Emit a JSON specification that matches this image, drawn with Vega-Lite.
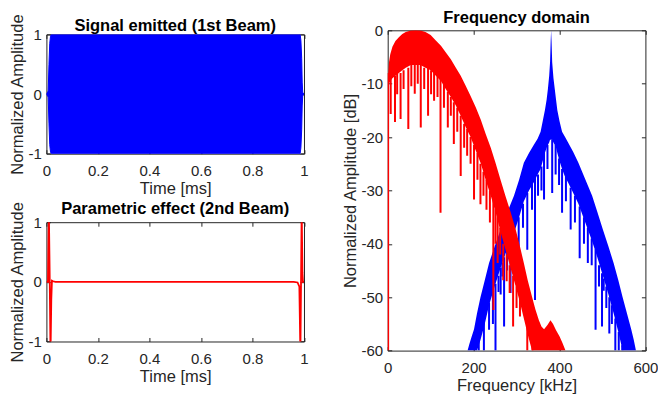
{
  "$schema": "https://vega.github.io/schema/vega-lite/v6.json",
  "background": "white",
  "padding": {"left": 8.4, "top": 10.3, "right": 5, "bottom": 5},
  "config": {
    "font": "Liberation Sans",
    "view": {"stroke": null},
    "title": {"font": "Liberation Sans", "fontSize": 16.5, "fontWeight": "bold", "color": "#000000", "offset": -3.6},
    "axis": {
      "labelFont": "Liberation Sans", "labelFontSize": 15, "labelColor": "#262626",
      "titleFont": "Liberation Sans", "titleFontSize": 16.5, "titleFontWeight": "normal", "titleColor": "#262626",
      "domainColor": "#262626", "domainWidth": 1, "tickColor": "#262626", "tickSize": -4, "tickWidth": 1,
      "grid": false, "labelFlush": false, "labelOverlap": false
    },
    "axisX": {"labelPadding": 13.6, "titlePadding": 2},
    "axisY": {"labelPadding": 9, "titlePadding": 3}
  },
  "datasets": {
    "sig": [
      {"t": 0, "hi": 0, "lo": 0}, {"t": 0.007, "hi": 0.05, "lo": -0.05}, {"t": 0.010, "hi": 0.5, "lo": -0.5},
      {"t": 0.013, "hi": 0.85, "lo": -0.85}, {"t": 0.016, "hi": 0.97, "lo": -0.97}, {"t": 0.019, "hi": 1, "lo": -1},
      {"t": 0.985, "hi": 1, "lo": -1}, {"t": 0.988, "hi": 0.9, "lo": -0.9}, {"t": 0.991, "hi": 0.6, "lo": -0.6},
      {"t": 0.993, "hi": 0.2, "lo": -0.2}, {"t": 0.995, "hi": 0.03, "lo": -0.03}, {"t": 1, "hi": 0, "lo": 0}
    ],
    "par": [
      {"t": 0, "v": 0}, {"t": 0.006, "v": 0}, {"t": 0.0095, "v": 1.2}, {"t": 0.0125, "v": 0.2},
      {"t": 0.016, "v": -1.2}, {"t": 0.019, "v": -0.3}, {"t": 0.0215, "v": 0.02}, {"t": 0.026, "v": 0.01},
      {"t": 0.035, "v": 0}, {"t": 0.96, "v": 0}, {"t": 0.975, "v": -0.01}, {"t": 0.982, "v": -0.08},
      {"t": 0.986, "v": -1.2}, {"t": 0.9885, "v": 0}, {"t": 0.991, "v": 1.2}, {"t": 0.994, "v": 0.15},
      {"t": 0.996, "v": 0}, {"t": 1, "v": 0}
    ],
    "redband": [
      {"f": 0.5, "hi": -9, "lo": -11}, {"f": 3, "hi": -6, "lo": -10}, {"f": 6, "hi": -4.5, "lo": -9.5},
      {"f": 11, "hi": -3.1, "lo": -9}, {"f": 18, "hi": -2, "lo": -8.5}, {"f": 26, "hi": -1.3, "lo": -8},
      {"f": 34, "hi": -0.7, "lo": -7.5}, {"f": 42, "hi": -0.3, "lo": -7}, {"f": 54, "hi": -0.05, "lo": -6.5},
      {"f": 65, "hi": 0, "lo": -6.5}, {"f": 76, "hi": -0.05, "lo": -6.5}, {"f": 88, "hi": -0.3, "lo": -7},
      {"f": 100, "hi": -0.9, "lo": -7.5}, {"f": 112, "hi": -1.9, "lo": -8.5}, {"f": 124, "hi": -2.9, "lo": -9.5},
      {"f": 135, "hi": -4.1, "lo": -11}, {"f": 147, "hi": -5.4, "lo": -12.5}, {"f": 158, "hi": -6.9, "lo": -14},
      {"f": 170, "hi": -8.5, "lo": -16}, {"f": 181, "hi": -10.3, "lo": -18}, {"f": 193, "hi": -12.3, "lo": -20},
      {"f": 205, "hi": -14.4, "lo": -22.5}, {"f": 217, "hi": -16.8, "lo": -25}, {"f": 228, "hi": -19.4, "lo": -28},
      {"f": 240, "hi": -22, "lo": -31}, {"f": 251, "hi": -24.8, "lo": -34}, {"f": 262, "hi": -27.8, "lo": -37.5},
      {"f": 274, "hi": -31, "lo": -41}, {"f": 286, "hi": -34, "lo": -44.5}, {"f": 298, "hi": -37.3, "lo": -48},
      {"f": 308, "hi": -40.5, "lo": -51}, {"f": 317, "hi": -43.6, "lo": -54}, {"f": 326, "hi": -46.8, "lo": -57},
      {"f": 336, "hi": -49.9, "lo": -60}, {"f": 344, "hi": -52.3, "lo": -60}, {"f": 352, "hi": -54.3, "lo": -60},
      {"f": 358, "hi": -55.5, "lo": -60}, {"f": 364, "hi": -56, "lo": -60}, {"f": 372, "hi": -55.2, "lo": -60},
      {"f": 379, "hi": -54.3, "lo": -60}, {"f": 385, "hi": -55, "lo": -60}, {"f": 392, "hi": -56.2, "lo": -60},
      {"f": 400, "hi": -57.3, "lo": -60}, {"f": 407, "hi": -58.6, "lo": -60}, {"f": 414, "hi": -60, "lo": -60}
    ],
    "redteeth": [
      {"f": 1, "top": -8, "bot": -60}, {"f": 7, "top": -9, "bot": -15.7}, {"f": 17, "top": -8.5, "bot": -17.2},
      {"f": 22, "top": -8, "bot": -12}, {"f": 30, "top": -8, "bot": -16.6}, {"f": 37, "top": -7.5, "bot": -11},
      {"f": 48, "top": -7, "bot": -18.5}, {"f": 55, "top": -6.5, "bot": -10.5}, {"f": 63, "top": -6.5, "bot": -11.9},
      {"f": 70, "top": -6.5, "bot": -10}, {"f": 77, "top": -6.5, "bot": -18.2}, {"f": 85, "top": -7, "bot": -11},
      {"f": 94, "top": -7, "bot": -16}, {"f": 101, "top": -7.5, "bot": -12}, {"f": 108, "top": -8, "bot": -13.2},
      {"f": 116, "top": -8.5, "bot": -12.5}, {"f": 123, "top": -9, "bot": -34.2}, {"f": 131, "top": -10, "bot": -14.5},
      {"f": 140, "top": -11.5, "bot": -18.2}, {"f": 147, "top": -12.5, "bot": -16}, {"f": 154, "top": -13.5, "bot": -21.3},
      {"f": 162, "top": -14.5, "bot": -19}, {"f": 170, "top": -16, "bot": -27.3}, {"f": 178, "top": -17.5, "bot": -22},
      {"f": 185, "top": -18.5, "bot": -23.5}, {"f": 193, "top": -20, "bot": -25}, {"f": 201, "top": -21.5, "bot": -31.7},
      {"f": 209, "top": -23, "bot": -28}, {"f": 216, "top": -25, "bot": -32.6}, {"f": 223, "top": -26.5, "bot": -31},
      {"f": 230, "top": -28, "bot": -33.6}, {"f": 238, "top": -30, "bot": -36}, {"f": 246, "top": -30, "bot": -52.4},
      {"f": 251, "top": -33.5, "bot": -40}, {"f": 256, "top": -35, "bot": -43.6}, {"f": 262, "top": -37, "bot": -42},
      {"f": 269, "top": -40, "bot": -46.8}, {"f": 277, "top": -42, "bot": -47}, {"f": 284, "top": -44, "bot": -49.2},
      {"f": 292, "top": -46, "bot": -55.5}, {"f": 300, "top": -48, "bot": -52}, {"f": 308, "top": -50, "bot": -53.6},
      {"f": 325, "top": -52, "bot": -60}, {"f": 337, "top": -56, "bot": -60}
    ],
    "blueband": [
      {"f": 186, "hi": -60, "lo": -60}, {"f": 190, "hi": -58.8, "lo": -60}, {"f": 195, "hi": -57.5, "lo": -60},
      {"f": 201, "hi": -56, "lo": -60}, {"f": 208, "hi": -53, "lo": -60}, {"f": 216, "hi": -50, "lo": -58},
      {"f": 226, "hi": -46.8, "lo": -55}, {"f": 236, "hi": -43.6, "lo": -51.5}, {"f": 249, "hi": -40.5, "lo": -48},
      {"f": 263, "hi": -37.3, "lo": -44.5}, {"f": 278, "hi": -34.2, "lo": -41}, {"f": 294, "hi": -31, "lo": -38},
      {"f": 306, "hi": -28, "lo": -35}, {"f": 317, "hi": -24.8, "lo": -32}, {"f": 329, "hi": -23, "lo": -30},
      {"f": 340, "hi": -21.5, "lo": -28.5}, {"f": 349, "hi": -20.3, "lo": -27}, {"f": 356, "hi": -19, "lo": -26},
      {"f": 361, "hi": -17, "lo": -24.5}, {"f": 366, "hi": -15, "lo": -23}, {"f": 370, "hi": -13, "lo": -22},
      {"f": 373, "hi": -11, "lo": -21.5}, {"f": 376, "hi": -8.5, "lo": -21}, {"f": 378, "hi": -6, "lo": -20.5},
      {"f": 379.5, "hi": -2, "lo": -20.5}, {"f": 380.5, "hi": 0, "lo": -20.5}, {"f": 381.5, "hi": -2, "lo": -20.5},
      {"f": 383, "hi": -6, "lo": -20.5}, {"f": 386, "hi": -9, "lo": -21}, {"f": 389, "hi": -11, "lo": -21.5},
      {"f": 392, "hi": -13, "lo": -22}, {"f": 395, "hi": -15, "lo": -23}, {"f": 400, "hi": -17, "lo": -24.5},
      {"f": 406, "hi": -19, "lo": -26}, {"f": 413, "hi": -20, "lo": -27.5}, {"f": 420, "hi": -21, "lo": -28.5},
      {"f": 432, "hi": -22.8, "lo": -30.5}, {"f": 444, "hi": -24.8, "lo": -32.5}, {"f": 460, "hi": -27.9, "lo": -36},
      {"f": 476, "hi": -31, "lo": -39.5}, {"f": 488, "hi": -34, "lo": -42.5}, {"f": 501, "hi": -37.3, "lo": -46},
      {"f": 514, "hi": -40.5, "lo": -49.5}, {"f": 526, "hi": -43.6, "lo": -53}, {"f": 537, "hi": -46.8, "lo": -56.5},
      {"f": 547, "hi": -50, "lo": -60}, {"f": 557, "hi": -53, "lo": -60}, {"f": 567, "hi": -56, "lo": -60},
      {"f": 573, "hi": -58, "lo": -60}, {"f": 578, "hi": -60, "lo": -60}
    ],
    "blueteeth": [
      {"f": 212, "top": -57, "bot": -60}, {"f": 224, "top": -54, "bot": -60}, {"f": 236, "top": -51, "bot": -56.1},
      {"f": 245, "top": -49, "bot": -55}, {"f": 251, "top": -47.5, "bot": -60}, {"f": 258, "top": -46, "bot": -49},
      {"f": 263, "top": -44.5, "bot": -49.5}, {"f": 267, "top": -43.5, "bot": -46.1}, {"f": 271, "top": -42.5, "bot": -55.5},
      {"f": 278, "top": -41, "bot": -45}, {"f": 286, "top": -39, "bot": -49.2}, {"f": 294, "top": -38, "bot": -42},
      {"f": 305, "top": -35, "bot": -42.4}, {"f": 315, "top": -32.5, "bot": -37}, {"f": 325, "top": -30.5, "bot": -41.1},
      {"f": 336, "top": -28.5, "bot": -33.6}, {"f": 343, "top": -27.5, "bot": -50.5}, {"f": 350, "top": -27, "bot": -31},
      {"f": 358, "top": -25.5, "bot": -30}, {"f": 364, "top": -23, "bot": -31.7}, {"f": 372, "top": -21.5, "bot": -26},
      {"f": 383, "top": -20.5, "bot": -30.5}, {"f": 391, "top": -21.5, "bot": -27}, {"f": 399, "top": -24, "bot": -29},
      {"f": 406, "top": -26, "bot": -34.2}, {"f": 415, "top": -27.5, "bot": -32}, {"f": 426, "top": -29.5, "bot": -37.3},
      {"f": 436, "top": -31, "bot": -36}, {"f": 447, "top": -33, "bot": -42.7}, {"f": 457, "top": -35, "bot": -40},
      {"f": 466, "top": -37, "bot": -43.6}, {"f": 475, "top": -39, "bot": -44}, {"f": 484, "top": -41, "bot": -56.1},
      {"f": 492, "top": -44, "bot": -48}, {"f": 499, "top": -45.5, "bot": -55.5}, {"f": 503, "top": -46.5, "bot": -48.8},
      {"f": 509, "top": -48, "bot": -52}, {"f": 516, "top": -50, "bot": -56.8}, {"f": 522, "top": -51.5, "bot": -55},
      {"f": 530, "top": -54, "bot": -60}, {"f": 538, "top": -56.5, "bot": -60}, {"f": 546, "top": -59, "bot": -60}
    ]
  },
  "hconcat": [
    {
      "vconcat": [
        {"width": 257.6, "height": 1, "data": {"values": [{}]}, "mark": {"type": "point", "opacity": 0, "size": 0}, "encoding": {}},
        {
          "vconcat": [
            {
              "width": 257.6, "height": 119.3,
              "title": {"text": "Signal emitted (1st Beam)", "offset": -21.3},
              "data": {"name": "sig"},
              "layer": [
                {
                  "mark": {"type": "area", "color": "#0000FF", "stroke": "#0000FF", "strokeWidth": 1, "clip": true},
                  "encoding": {
                    "x": {"field": "t", "type": "quantitative", "scale": {"domain": [0, 1]},
                      "axis": {"title": "Time [ms]", "values": [0, 0.2, 0.4, 0.6, 0.8, 1], "labelExpr": "'' + datum.value"}},
                    "y": {"field": "hi", "type": "quantitative", "scale": {"domain": [-1, 1]},
                      "axis": {"title": "Normalized Amplitude", "values": [-1, 0, 1], "labelExpr": "'' + datum.value"}},
                    "y2": {"field": "lo"}
                  }
                },
                {
                  "mark": {"type": "area", "opacity": 0},
                  "encoding": {
                    "x": {"field": "t", "type": "quantitative", "axis": {"orient": "top", "labels": false, "title": null, "values": [0, 0.2, 0.4, 0.6, 0.8, 1]}},
                    "y": {"field": "hi", "type": "quantitative", "axis": {"orient": "right", "labels": false, "title": null, "values": [-1, 0, 1]}},
                    "y2": {"field": "lo"}
                  }
                }
              ],
              "resolve": {"axis": {"x": "independent", "y": "independent"}}
            },
            {
              "width": 257.6, "height": 119.3,
              "title": {"text": "Parametric effect (2nd Beam)", "offset": -16.6},
              "data": {"name": "par"},
              "layer": [
                {
                  "mark": {"type": "line", "color": "#FF0000", "strokeWidth": 1.8, "clip": true},
                  "encoding": {
                    "x": {"field": "t", "type": "quantitative", "scale": {"domain": [0, 1]},
                      "axis": {"title": "Time [ms]", "values": [0, 0.2, 0.4, 0.6, 0.8, 1], "labelExpr": "'' + datum.value"}},
                    "y": {"field": "v", "type": "quantitative", "scale": {"domain": [-1, 1]},
                      "axis": {"title": "Normalized Amplitude", "values": [-1, 0, 1], "labelExpr": "'' + datum.value"}}
                  }
                },
                {
                  "mark": {"type": "line", "opacity": 0},
                  "encoding": {
                    "x": {"field": "t", "type": "quantitative", "axis": {"orient": "top", "labels": false, "title": null, "values": [0, 0.2, 0.4, 0.6, 0.8, 1]}},
                    "y": {"field": "v", "type": "quantitative", "axis": {"orient": "right", "labels": false, "title": null, "values": [-1, 0, 1]}}
                  }
                }
              ],
              "resolve": {"axis": {"x": "independent", "y": "independent"}}
            }
          ],
          "spacing": 2.8
        }
      ],
      "spacing": -18.9
    },
    {
      "width": 257.7, "height": 320.3,
      "title": {"text": "Frequency domain", "offset": -3.6},
      "layer": [
        {
          "data": {"name": "blueband"},
          "mark": {"type": "area", "color": "#0000FF", "clip": true},
          "encoding": {
            "x": {"field": "f", "type": "quantitative", "scale": {"domain": [0, 600]},
              "axis": {"title": "Frequency [kHz]", "values": [0, 200, 400, 600], "labelExpr": "'' + datum.value"}},
            "y": {"field": "hi", "type": "quantitative", "scale": {"domain": [-60, 0]},
              "axis": {"title": "Normalized Amplitude [dB]", "values": [-60, -50, -40, -30, -20, -10, 0], "labelExpr": "'' + datum.value"}},
            "y2": {"field": "lo"}
          }
        },
        {
          "data": {"name": "blueteeth"},
          "mark": {"type": "rule", "color": "#0000FF", "strokeWidth": 2, "clip": true},
          "encoding": {
            "x": {"field": "f", "type": "quantitative", "axis": null},
            "y": {"field": "top", "type": "quantitative", "axis": null},
            "y2": {"field": "bot"}
          }
        },
        {
          "data": {"name": "redband"},
          "mark": {"type": "area", "color": "#FF0000", "clip": true},
          "encoding": {
            "x": {"field": "f", "type": "quantitative", "axis": null},
            "y": {"field": "hi", "type": "quantitative", "axis": null},
            "y2": {"field": "lo"}
          }
        },
        {
          "data": {"name": "redteeth"},
          "mark": {"type": "rule", "color": "#FF0000", "strokeWidth": 2, "clip": true},
          "encoding": {
            "x": {"field": "f", "type": "quantitative", "axis": null},
            "y": {"field": "top", "type": "quantitative", "axis": null},
            "y2": {"field": "bot"}
          }
        },
        {
          "data": {"name": "redband"},
          "mark": {"type": "area", "opacity": 0},
          "encoding": {
            "x": {"field": "f", "type": "quantitative", "axis": {"orient": "top", "labels": false, "title": null, "values": [0, 200, 400, 600]}},
            "y": {"field": "hi", "type": "quantitative", "axis": {"orient": "right", "labels": false, "title": null, "values": [-60, -50, -40, -30, -20, -10, 0]}},
            "y2": {"field": "lo"}
          }
        }
      ],
      "resolve": {"axis": {"x": "independent", "y": "independent"}}
    }
  ],
  "spacing": 33.3
}
